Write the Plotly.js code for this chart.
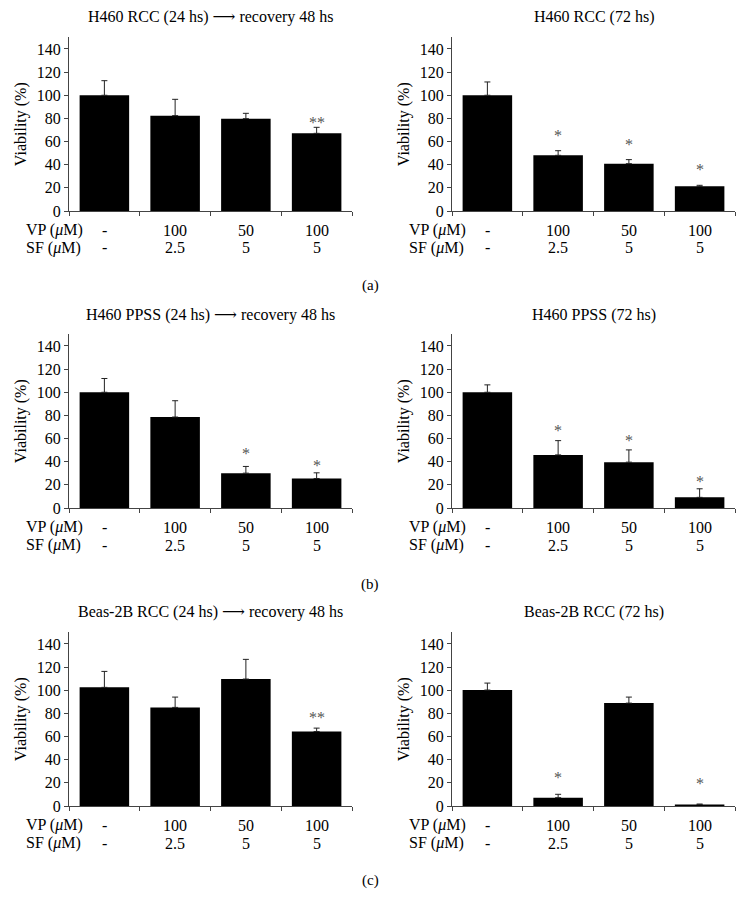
<!DOCTYPE html>
<html>
<head>
<meta charset="utf-8">
<script src="https://cdn.plot.ly/plotly-3.0.1.min.js"></script>
<style>html,body{margin:0;padding:0;background:#fff;}#chart{width:746px;height:912px;}</style>
</head>
<body>
<div id="chart"></div>
<script>
// ---- data ----
const vpLabels = ['-', '100', '50', '100'];
const sfLabels = ['-', '2.5', '5', '5'];
const categories = ['ctrl', 'VP100_SF2.5', 'VP50_SF5', 'VP100_SF5'];
const yTickVals = [0, 20, 40, 60, 80, 100, 120, 140];

const titles = [
  'H460 RCC (24 hs) \u27F6 recovery 48 hs',
  'H460 RCC (72 hs)',
  'H460 PPSS (24 hs) \u27F6 recovery 48 hs',
  'H460 PPSS (72 hs)',
  'Beas-2B RCC (24 hs) \u27F6 recovery 48 hs',
  'Beas-2B RCC (72 hs)'
];
const panelLetters = ['(a)', '(b)', '(c)'];

const aLeftVal  = [100, 82.4, 79.8, 67.1];
const aLeftErr  = [12.6, 14.1, 4.6, 5.2];
const aLeftSig  = ['', '', '', '**'];
const aLeftSigY = [null, null, null, 80];

const aRightVal  = [100, 48.1, 40.9, 21.3];
const aRightErr  = [11.5, 4.0, 3.5, 0.9];
const aRightSig  = ['', '*', '*', '*'];
const aRightSigY = [null, 68.6, 60.5, 38.9];

const bLeftVal  = [100, 78.6, 30.1, 25.5];
const bLeftErr  = [11.9, 14.1, 5.8, 4.9];
const bLeftSig  = ['', '', '*', '*'];
const bLeftSigY = [null, null, 50.2, 40.2];

const bRightVal  = [100, 45.9, 39.6, 9.2];
const bRightErr  = [6.4, 12.3, 10.6, 7.4];
const bRightSig  = ['', '*', '*', '*'];
const bRightSigY = [null, 70.3, 61.7, 26.7];

const cLeftVal  = [102.5, 85.2, 109.7, 64.4];
const cLeftErr  = [13.8, 8.9, 17.0, 2.9];
const cLeftSig  = ['', '', '', '**'];
const cLeftSigY = [null, null, null, 80.3];

const cRightVal  = [100.2, 7.2, 88.9, 1.2];
const cRightErr  = [6.0, 2.9, 5.2, 0.5];
const cRightSig  = ['', '*', '', '*'];
const cRightSigY = [null, 27.7, null, 23.1];

// ---- build ----
const W = 746, H = 912;
const FONT = 'Liberation Serif, DejaVu Serif, Times New Roman, serif';
const FS = 16;

const panels = [
  [aLeftVal, aLeftErr, aLeftSig, aLeftSigY],
  [aRightVal, aRightErr, aRightSig, aRightSigY],
  [bLeftVal, bLeftErr, bLeftSig, bLeftSigY],
  [bRightVal, bRightErr, bRightSig, bRightSigY],
  [cLeftVal, cLeftErr, cLeftSig, cLeftSigY],
  [cRightVal, cRightErr, cRightSig, cRightSigY]
];

// pixel geometry of plot areas
const colX = [[69, 352], [452, 735]];
const rowY = [[37.4, 211], [334.4, 508], [632.4, 806]]; // top, bottom
const titleY = [17, 315, 612];
const letterY = [285, 584, 880];

const traces = [];
const layout = {
  width: W, height: H,
  margin: {l: 0, r: 0, t: 0, b: 0},
  paper_bgcolor: '#fff', plot_bgcolor: 'rgba(0,0,0,0)',
  showlegend: false,
  font: {family: FONT, size: FS, color: '#000'},
  annotations: []
};

panels.forEach((p, k) => {
  const [vals, errs, sig, sigY] = p;
  const r = Math.floor(k / 2), c = k % 2;
  const n = k + 1;
  const xa = 'x' + (n === 1 ? '' : n), ya = 'y' + (n === 1 ? '' : n);
  traces.push({
    type: 'bar', x: categories, y: vals, xaxis: xa, yaxis: ya,
    marker: {color: '#000', line: {width: 0}},
    width: 0.7,
    error_y: {type: 'data', symmetric: false, array: errs, arrayminus: errs.map(() => 0),
              color: '#222', thickness: 1, width: 3},
    hoverinfo: 'none'
  });
  const xk = 'xaxis' + (n === 1 ? '' : n), yk = 'yaxis' + (n === 1 ? '' : n);
  layout[xk] = {
    domain: [colX[c][0] / W, colX[c][1] / W],
    anchor: ya, type: 'category', range: [-0.5, 3.5],
    showline: true, linecolor: '#444', linewidth: 1,
    ticks: 'outside', ticklen: 4, tickcolor: '#444', tickson: 'boundaries',
    showticklabels: false,
    showgrid: false, zeroline: false, fixedrange: true
  };
  layout[yk] = {
    domain: [1 - rowY[r][1] / H, 1 - rowY[r][0] / H],
    anchor: xa, range: [0, 150], tickvals: yTickVals,
    showline: true, linecolor: '#444', linewidth: 1,
    ticks: 'outside', ticklen: 4, tickcolor: '#444',
    showgrid: false, zeroline: false, fixedrange: true,
    tickfont: {family: FONT, size: FS, color: '#000'},
    title: {text: 'Viability (%)', font: {family: FONT, size: FS, color: '#000'}, standoff: 6}
  };
  // category labels (VP row, SF row)
  categories.forEach((cat, i) => {
    layout.annotations.push({
      xref: xa, yref: 'paper', x: cat, y: 1 - (rowY[r][1] + 19) / H,
      text: vpLabels[i], showarrow: false, xanchor: 'center', yanchor: 'middle',
      font: {family: FONT, size: FS, color: '#000'}
    });
    layout.annotations.push({
      xref: xa, yref: 'paper', x: cat, y: 1 - (rowY[r][1] + 37) / H,
      text: sfLabels[i], showarrow: false, xanchor: 'center', yanchor: 'middle',
      font: {family: FONT, size: FS, color: '#000'}
    });
  });
  // significance markers
  sig.forEach((s, i) => {
    if (!s) return;
    layout.annotations.push({
      xref: xa, yref: ya, x: categories[i], y: sigY[i], text: s, showarrow: false,
      yanchor: 'middle', yshift: -4,
      font: {family: FONT, size: FS, color: '#555'}
    });
  });
  // title
  layout.annotations.push({
    xref: 'paper', yref: 'paper',
    x: (colX[c][0] + colX[c][1]) / 2 / W, y: 1 - titleY[r] / H,
    text: titles[k], showarrow: false, xanchor: 'center', yanchor: 'middle',
    font: {family: FONT, size: FS, color: '#000'}
  });
  // row labels
  layout.annotations.push({
    xref: 'paper', yref: 'paper', x: (colX[c][0] - 45) / W, y: 1 - (rowY[r][1] + 19) / H,
    text: 'VP (<i>μ</i>M)', showarrow: false, xanchor: 'left', yanchor: 'middle',
    font: {family: FONT, size: FS, color: '#000'}
  });
  layout.annotations.push({
    xref: 'paper', yref: 'paper', x: (colX[c][0] - 45) / W, y: 1 - (rowY[r][1] + 37) / H,
    text: 'SF (<i>μ</i>M)', showarrow: false, xanchor: 'left', yanchor: 'middle',
    font: {family: FONT, size: FS, color: '#000'}
  });
});

panelLetters.forEach((t, r) => {
  layout.annotations.push({
    xref: 'paper', yref: 'paper', x: 370 / W, y: 1 - letterY[r] / H,
    text: t, showarrow: false, xanchor: 'center', yanchor: 'middle',
    font: {family: FONT, size: 15, color: '#000'}
  });
});

Plotly.newPlot('chart', traces, layout, {staticPlot: true, displayModeBar: false});
</script>
</body>
</html>
